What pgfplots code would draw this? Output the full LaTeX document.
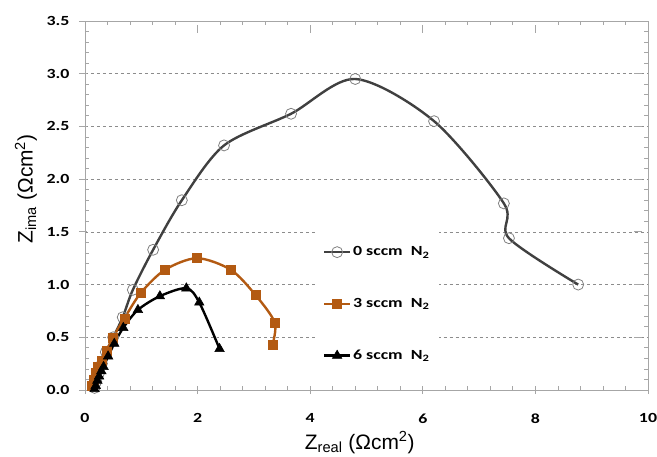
\documentclass[border=0pt]{standalone}
\usepackage{fontspec}
\setmainfont{Carlito}
\newfontfamily\tickfont[FakeStretch=1.28]{Carlito}
\newfontfamily\arial{Liberation Sans}
\usepackage{pgfplots}
\pgfplotsset{compat=1.18}
\definecolor{axgray}{HTML}{A6A6A6}
\definecolor{gridgray}{HTML}{8C8C8C}
\definecolor{ser0}{HTML}{404040}
\definecolor{mk0}{HTML}{808080}
\definecolor{ser3}{HTML}{B35A12}
\begin{document}
\begin{tikzpicture}
\path[use as bounding box] (-85bp,-67bp) rectangle (572bp,390bp);
\begin{axis}[
  scale only axis,
  width=563bp, height=369bp,
  xmin=0, xmax=10, ymin=0, ymax=3.5,
  xtick={0,2,...,10},
  ytick={0,0.5,...,3.5},
  minor x tick num=4,
  minor y tick num=4,
  ymajorgrids,
  major grid style={gridgray, dashed, line width=0.6bp},
  axis line style={axgray, line width=0.9bp},
  tick style={axgray, line width=0.8bp},
  tick align=inside,
  major tick length=8bp,
  minor tick length=4bp,
  every major x tick/.append style={yshift=-4bp},
  every major y tick/.append style={xshift=-6bp},
  tick label style={font=\tickfont\bfseries\fontsize{14}{16}\selectfont},
  /pgf/number format/assume math mode=true,
  yticklabel style={/pgf/number format/fixed, /pgf/number format/fixed zerofill, /pgf/number format/precision=1, xshift=-12bp},
  xticklabel style={/pgf/number format/fixed, /pgf/number format/precision=0, yshift=-20bp},
  xlabel={\arial\fontsize{21}{24}\selectfont Z\textsubscript{real} (Ωcm\textsuperscript{2})},
  ylabel={\arial\fontsize{21}{24}\selectfont Z\textsubscript{ima} (Ωcm\textsuperscript{2})},
  xlabel style={at={(axis description cs:0.488,0)}, anchor=base, yshift=-59bp},
  ylabel style={at={(axis description cs:-0.1048,0.545)}, anchor=center},
  legend style={at={(0.4085,0.44)}, anchor=north west, draw=none, fill=white,
    font=\tickfont\bfseries\fontsize{14}{16}\selectfont, row sep=37bp, inner xsep=8bp, inner ysep=17bp,
    cells={anchor=west}},
  legend cell align=left,
  legend image code/.code={\draw[mark repeat=2, mark phase=2] plot coordinates {(0cm,0cm) (0.45cm,0cm) (0.9cm,0cm)};},
]
\addplot[ser0, line width=2.4bp, smooth, mark=o, mark size=5.5bp, mark options={mk0, line width=0.8bp, fill=none}]
coordinates {(0.17,0.02)(0.20,0.08)(0.25,0.16)(0.30,0.25)(0.37,0.36)(0.50,0.50)(0.67,0.69)(0.85,0.95)(1.21,1.33)(1.72,1.80)(2.47,2.32)(3.66,2.62)(4.80,2.95)(6.20,2.55)(7.44,1.77)(7.53,1.44)(8.76,1.00)};
\addlegendentry{0 sccm\ \ N\textsubscript{2}}
\addplot[ser3, line width=2.4bp, smooth, mark=square*, mark size=4.5bp, mark options={ser3, fill=ser3, line width=0.5bp}]
coordinates {(0.12,0.04)(0.15,0.10)(0.19,0.16)(0.23,0.22)(0.29,0.28)(0.38,0.37)(0.50,0.50)(0.70,0.68)(0.99,0.92)(1.42,1.14)(1.99,1.25)(2.59,1.14)(3.03,0.90)(3.37,0.64)(3.33,0.43)};
\addlegendentry{3 sccm\ \ N\textsubscript{2}}
\addplot[black, line width=2.4bp, smooth, mark=triangle*, mark size=5.5bp, mark options={black, fill=black, line width=0.5bp}]
coordinates {(0.17,0.01)(0.19,0.04)(0.22,0.09)(0.25,0.13)(0.29,0.18)(0.33,0.22)(0.41,0.32)(0.52,0.44)(0.68,0.59)(0.94,0.76)(1.33,0.89)(1.80,0.965)(2.03,0.83)(2.39,0.39)};
\addlegendentry{6 sccm\ \ N\textsubscript{2}}
\end{axis}
\end{tikzpicture}
\end{document}
